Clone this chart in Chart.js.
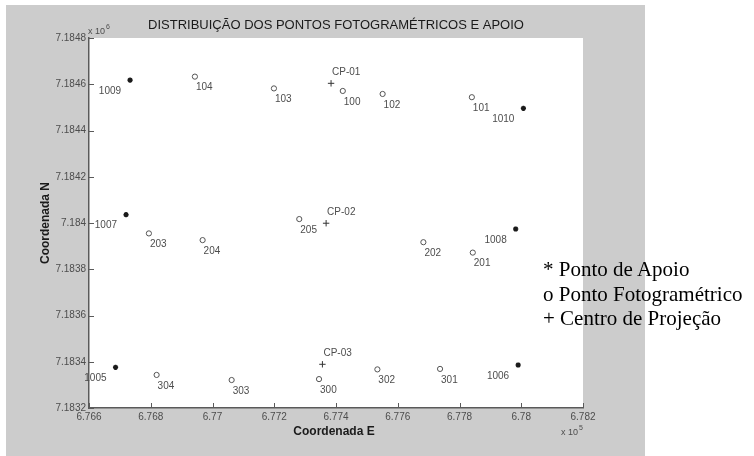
<!DOCTYPE html>
<html>
<head>
<meta charset="utf-8">
<script src="https://cdn.jsdelivr.net/npm/chart.js@4.4.0/dist/chart.umd.min.js"></script>
<style>
  html, body { margin: 0; padding: 0; background: #fff; }
  #wrap { position: relative; width: 754px; height: 456px; }
  #chart { display: block; }
  .leg { position: absolute; left: 543px; font-family: "Liberation Serif", "Times New Roman", serif; font-size: 21px; line-height: 21px; color: #000; white-space: nowrap; }
</style>
</head>
<body>
<div id="wrap">
  <canvas id="chart" width="754" height="456" style="width:754px;height:456px"></canvas>
  <div class="leg" style="top:259px">* Ponto de Apoio</div>
  <div class="leg" style="top:284px">o Ponto Fotogramétrico</div>
  <div class="leg" style="top:308px">+ Centro de Projeção</div>
</div>
<script>
// pontos de apoio (*)
const apoioNames = ['1009', '1010', '1007', '1008', '1005', '1006'];
const apoioE = [676733, 678007, 676720, 677982, 676686, 677990];
const apoioN = [7184618, 7184496, 7184036, 7183974, 7183376, 7183386];

// pontos fotogrametricos (o)
const fotoNames = ['104', '103', '100', '102', '101', '203', '204', '205', '202', '201', '304', '303', '300', '302', '301'];
const fotoE = [676943, 677199, 677422, 677551, 677840, 676794, 676968, 677281, 677683, 677843, 676819, 677062, 677345, 677534, 677737];
const fotoN = [7184633, 7184582, 7184571, 7184558, 7184544, 7183955, 7183926, 7184017, 7183917, 7183872, 7183343, 7183321, 7183325, 7183367, 7183369];

// centros de projecao (+)
const cpNames = ['CP-01', 'CP-02', 'CP-03'];
const cpE = [677384, 677368, 677356];
const cpN = [7184604, 7183999, 7183389];

const xMin = 676600, xMax = 678200, yMin = 7183200, yMax = 7184800, step = 200;

const sans = '"Liberation Sans", Arial, Helvetica, sans-serif';
const fmt = v => parseFloat(v.toFixed(4)).toString();
const toPts = (es, ns) => es.map((e, i) => ({ x: e, y: ns[i] }));

const figure = {
  id: 'figure',
  beforeDraw(chart) {
    const { ctx, chartArea: a } = chart;
    ctx.save();
    ctx.fillStyle = '#cccccc';
    ctx.fillRect(6, 5, 639, 451);
    ctx.fillStyle = '#ffffff';
    ctx.fillRect(a.left, a.top, a.right - a.left, a.bottom - a.top);
    ctx.restore();
  },
  afterDatasetsDraw(chart) {
    const ctx = chart.ctx;
    const names = [apoioNames, fotoNames, cpNames];
    ctx.save();
    ctx.font = '10px ' + sans;
    ctx.fillStyle = '#4d4d4d';
    ctx.textBaseline = 'middle';
    chart.data.datasets.forEach((ds, d) => {
      chart.getDatasetMeta(d).data.forEach((pt, i) => {
        const t = names[d][i];
        if (d === 0) { ctx.textAlign = 'right'; ctx.fillText(t, pt.x - 9, pt.y + 11); }
        else if (d === 1) { ctx.textAlign = 'left'; ctx.fillText(t, pt.x + 1, pt.y + 11); }
        else { ctx.textAlign = 'left'; ctx.fillText(t, pt.x + 1, pt.y - 11); }
      });
    });
    ctx.restore();
  },
  afterDraw(chart) {
    const { ctx, chartArea: a, scales } = chart;
    ctx.save();
    // ticks para dentro, estilo matlab
    ctx.strokeStyle = '#5a5a5a';
    ctx.lineWidth = 1;
    ctx.beginPath();
    scales.x.ticks.forEach(t => {
      const px = Math.round(scales.x.getPixelForValue(t.value)) + 0.5;
      ctx.moveTo(px, a.bottom); ctx.lineTo(px, a.bottom - 5);
    });
    scales.y.ticks.forEach(t => {
      const py = Math.round(scales.y.getPixelForValue(t.value)) + 0.5;
      ctx.moveTo(a.left, py); ctx.lineTo(a.left + 5, py);
    });
    ctx.stroke();

    ctx.fillStyle = '#1a1a1a';
    ctx.textBaseline = 'middle';
    ctx.textAlign = 'center';
    ctx.font = '13px ' + sans;
    ctx.fillText('DISTRIBUIÇÃO DOS PONTOS FOTOGRAMÉTRICOS E APOIO', (a.left + a.right) / 2, 25);

    ctx.font = 'bold 12px ' + sans;
    ctx.fillText('Coordenada E', (a.left + a.right) / 2 - 2, 432);
    ctx.save();
    ctx.translate(46, (a.top + a.bottom) / 2);
    ctx.rotate(-Math.PI / 2);
    ctx.fillText('Coordenada N', 0, 0);
    ctx.restore();

    // expoentes
    ctx.fillStyle = '#4d4d4d';
    ctx.textAlign = 'left';
    ctx.font = '9px ' + sans;
    ctx.fillText('x 10', 88, 32);
    ctx.fillText('x 10', 561, 433);
    ctx.font = '7px ' + sans;
    ctx.fillText('6', 106, 27);
    ctx.fillText('5', 579, 428);
    ctx.restore();
  }
};

new Chart(document.getElementById('chart'), {
  type: 'scatter',
  data: {
    datasets: [
      {
        label: 'Ponto de Apoio',
        data: toPts(apoioE, apoioN),
        pointStyle: 'star',
        radius: 2.6,
        borderWidth: 1.6,
        borderColor: '#1a1a1a',
        backgroundColor: '#1a1a1a'
      },
      {
        label: 'Ponto Fotogramétrico',
        data: toPts(fotoE, fotoN),
        pointStyle: 'circle',
        radius: 2.6,
        borderWidth: 1,
        borderColor: '#555555',
        backgroundColor: 'rgba(255,255,255,0)'
      },
      {
        label: 'Centro de Projeção',
        data: toPts(cpE, cpN),
        pointStyle: 'cross',
        radius: 3.2,
        borderWidth: 1,
        borderColor: '#333333'
      }
    ]
  },
  options: {
    responsive: false,
    animation: false,
    events: [],
    layout: { padding: { left: 6, top: 38, right: 171, bottom: 0 } },
    plugins: {
      legend: { display: false },
      title: { display: false },
      tooltip: { enabled: false }
    },
    scales: {
      x: {
        type: 'linear',
        min: xMin,
        max: xMax,
        border: { display: true, color: '#5a5a5a', width: 1.5 },
        grid: { display: false, drawTicks: false },
        ticks: {
          stepSize: step,
          padding: 3,
          autoSkip: false,
          maxRotation: 0,
          color: '#4d4d4d',
          font: { family: sans, size: 10 },
          callback: v => fmt(v / 1e5)
        },
        afterFit: s => { s.height = 48; }
      },
      y: {
        type: 'linear',
        min: yMin,
        max: yMax,
        border: { display: true, color: '#5a5a5a', width: 1.5 },
        grid: { display: false, drawTicks: false },
        ticks: {
          stepSize: step,
          padding: 3,
          autoSkip: false,
          color: '#4d4d4d',
          font: { family: sans, size: 10 },
          callback: v => fmt(v / 1e6)
        },
        afterFit: s => { s.width = 83; }
      }
    }
  },
  plugins: [figure]
});
</script>
</body>
</html>
